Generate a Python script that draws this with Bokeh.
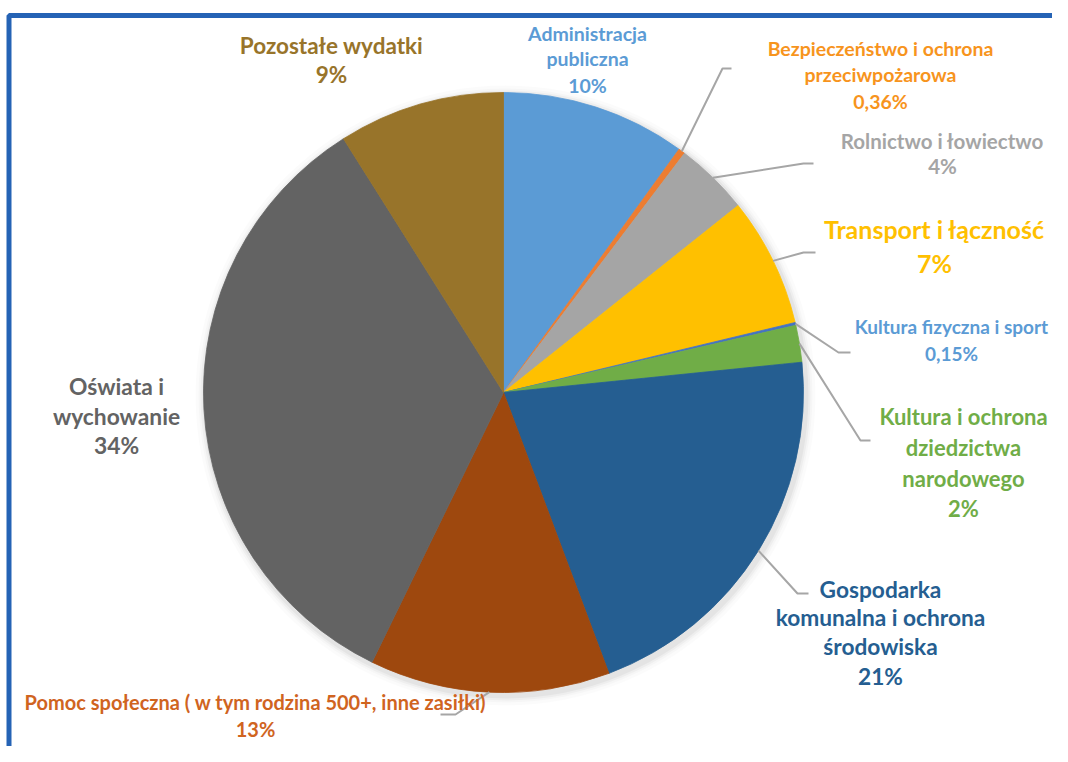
import math
from bokeh.plotting import figure
from bokeh.models import Range1d
from bokeh.core.properties import value
from bokeh.embed import file_html
from bokeh.resources import INLINE

# ---- data ----
categories = [
    "Administracja publiczna",
    "Bezpieczeństwo i ochrona przeciwpożarowa",
    "Rolnictwo i łowiectwo",
    "Transport i łączność",
    "Kultura fizyczna i sport",
    "Kultura i ochrona dziedzictwa narodowego",
    "Gospodarka komunalna i ochrona środowiska",
    "Pomoc społeczna ( w tym rodzina 500+, inne zasiłki)",
    "Oświata i wychowanie",
    "Pozostałe wydatki",
]
values = [10, 0.36, 4, 7, 0.15, 2, 21, 13, 34, 9]
pct_labels = ["10%", "0,36%", "4%", "7%", "0,15%", "2%", "21%", "13%", "34%", "9%"]
name_lines = [
    ["Administracja", "publiczna"],
    ["Bezpieczeństwo i ochrona", "przeciwpożarowa"],
    ["Rolnictwo i łowiectwo"],
    ["Transport i łączność"],
    ["Kultura fizyczna i sport"],
    ["Kultura i ochrona", "dziedzictwa", "narodowego"],
    ["Gospodarka", "komunalna i ochrona", "środowiska"],
    ["Pomoc społeczna ( w tym rodzina 500+, inne zasiłki)"],
    ["Oświata i", "wychowanie"],
    ["Pozostałe wydatki"],
]
slice_colors = ["#5B9BD5", "#ED7D31", "#A5A5A5", "#FFC000", "#4472C4",
                "#70AD47", "#255E91", "#9E480E", "#636363", "#98742A"]
label_colors = ["#5B9BD5", "#F7941D", "#A5A5A5", "#FFC000", "#5B9BD5",
                "#70AD47", "#255E91", "#D0641F", "#636363", "#98742A"]

# ---- layout (screen px) ----
W, H = 1052, 746
def sy(y):  # screen y -> data y
    return H - y

CX, CY, R = 503, 392, 300
# label layout: center x, line y positions, font size
label_layout = [
    (587, [33, 58, 85], 19.5),
    (880, [48, 74, 101], 19.5),
    (942, [140, 165], 20.5),
    (934, [228, 262], 25),
    (951, [326, 353], 19),
    (963, [416, 447, 478, 508], 22),
    (880, [589, 617, 646, 676], 22.7),
    (255, [701, 728], 20),
    (116, [385, 415, 444], 22.8),
    (331, [45, 74], 22.5),
]
# leader lines: (elbow, end) in screen px, or None
leaders = [
    None,
    ((722, 68), (731, 68)),
    ((803, 163), (813, 163)),
    ((803, 252), (815, 252)),
    ((838, 352), (850, 352)),
    ((860, 440), (870, 440)),
    ((797, 593), (808, 593)),
    ((455, 714), (440, 714)),
    None,
    None,
]

p = figure(width=W, height=H, output_backend="svg", toolbar_location=None,
           x_range=Range1d(0, W), y_range=Range1d(0, H),
           min_border=0, outline_line_color=None)
p.axis.visible = False
p.grid.visible = False
p.background_fill_color = "white"
p.border_fill_color = "white"

# frame
p.line([8.5, 8.5, 1100], [sy(900), sy(15), sy(15)], line_color="#2563B5", line_width=5)

# soft shadow
for k, a in [(10, 0.015), (7, 0.02), (5, 0.03), (3, 0.04)]:
    p.circle(x=CX + 2, y=sy(CY + 3), radius=R + k, fill_color="black",
             fill_alpha=a, line_color=None)

total = sum(values)
cum = 0.0
starts, ends, mids = [], [], []
for v in values:
    a0 = math.pi / 2 - 2 * math.pi * cum / total
    cum += v
    a1 = math.pi / 2 - 2 * math.pi * cum / total
    starts.append(a0)
    ends.append(a1)
    mids.append((a0 + a1) / 2)

p.wedge(x=[CX] * len(values), y=[sy(CY)] * len(values), radius=R,
        start_angle=starts, end_angle=ends, direction="clock",
        fill_color=slice_colors, line_color=slice_colors, line_width=0.8)

# leader lines
for i, ld in enumerate(leaders):
    if ld is None:
        continue
    sx0 = CX + R * math.cos(mids[i])
    sy0 = sy(CY) + R * math.sin(mids[i])
    (ex, ey), (fx, fy) = ld
    p.line([sx0, ex, fx], [sy0, sy(ey), sy(fy)], line_color="#A6A6A6", line_width=2)

# labels
for i in range(len(values)):
    cx, ys, fs = label_layout[i]
    lines = name_lines[i] + [pct_labels[i]]
    p.text(x=[cx] * len(lines), y=[sy(y) for y in ys], text=lines,
           text_font=value("Lato"), text_font_style="bold",
           text_font_size=f"{fs}px", text_color=label_colors[i],
           text_align="center", text_baseline="middle")

open("out.html", "w").write(file_html(p, INLINE))
